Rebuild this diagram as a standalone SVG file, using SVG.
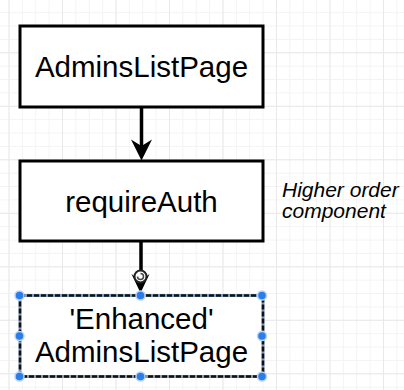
<svg xmlns="http://www.w3.org/2000/svg" width="404" height="390" viewBox="0 0 404 390">
  <defs>
    <pattern id="minor" width="13.375" height="13.375" patternUnits="userSpaceOnUse" x="8.5" y="-1.2">
      <path d="M0 0.5H13.375M0.5 0V13.375" fill="none" stroke="#f3f3f3" stroke-width="1"/>
    </pattern>
    <pattern id="major" width="53.5" height="53.5" patternUnits="userSpaceOnUse" x="8.5" y="-1.2">
      <path d="M0 0.5H53.5M0.5 0V53.5" fill="none" stroke="#e9e9e9" stroke-width="1"/>
    </pattern>
    <style>
      .box { fill: #ffffff; stroke: #000000; stroke-width: 3; }
      .label { font-family: "Liberation Sans", Arial, sans-serif; font-size: 29.5px; fill: #000000; text-anchor: middle; }
      .note { font-family: "Liberation Sans", Arial, sans-serif; font-size: 21px; font-style: italic; fill: #000000; }
      .edge { stroke: #000000; stroke-width: 3.5; fill: none; }
      .head { fill: #000000; }
      .handle { fill: #2b7de9; stroke: #b9d4f5; stroke-width: 1.5; }
    </style>
  </defs>

  <!-- canvas grid -->
  <rect width="404" height="390" fill="#ffffff"/>
  <rect width="404" height="390" fill="url(#minor)"/>
  <rect width="404" height="390" fill="url(#major)"/>

  <!-- connectors -->
  <g id="connectors">
    <line class="edge" x1="141.5" y1="107" x2="141.5" y2="146"/>
    <polygon class="head" points="141.5,160.5 131,139.5 141.5,146 152,139.5"/>
    <line class="edge" x1="141" y1="241" x2="141" y2="270"/>
    <polygon class="head" points="140.5,293 131.5,274 140.5,281 149.5,274"/>
    <!-- rotate cursor over the arrowhead -->
    <circle cx="140.5" cy="276.5" r="6" fill="#ffffff" stroke="#222222" stroke-width="2"/>
    <path d="M137.5 276.5a3 3 0 1 0 3-3" fill="none" stroke="#444444" stroke-width="1.5"/>
  </g>

  <g id="admins-list-page">
    <rect class="box" x="20" y="26" width="243" height="81"/>
    <text class="label" x="141.5" y="76.5">AdminsListPage</text>
  </g>

  <g id="require-auth">
    <rect class="box" x="20" y="161" width="243" height="80"/>
    <text class="label" x="141.5" y="211.5">requireAuth</text>
  </g>

  <g id="hoc-note">
    <text class="note" x="282" y="196.5">Higher order</text>
    <text class="note" x="282" y="218">component</text>
  </g>

  <g id="enhanced-page">
    <rect x="20" y="295.5" width="243" height="81" fill="#ffffff" stroke="#7f9cc0" stroke-width="3"/>
    <rect x="20" y="295.5" width="243" height="81" fill="none" stroke="#111111" stroke-width="2.5" stroke-dasharray="5 2"/>
    <text class="label" x="141.5" y="328.5">'Enhanced'</text>
    <text class="label" x="141.5" y="361.5">AdminsListPage</text>
    <!-- selection handles -->
    <circle class="handle" cx="19.5" cy="295.5" r="4.5"/>
    <circle class="handle" cx="140.5" cy="295.5" r="4.5"/>
    <circle class="handle" cx="262" cy="295.5" r="4.5"/>
    <circle class="handle" cx="19.5" cy="336" r="4.5"/>
    <circle class="handle" cx="262" cy="336" r="4.5"/>
    <circle class="handle" cx="19.5" cy="376.5" r="4.5"/>
    <circle class="handle" cx="140.5" cy="376.5" r="4.5"/>
    <circle class="handle" cx="262" cy="376.5" r="4.5"/>
  </g>
</svg>
